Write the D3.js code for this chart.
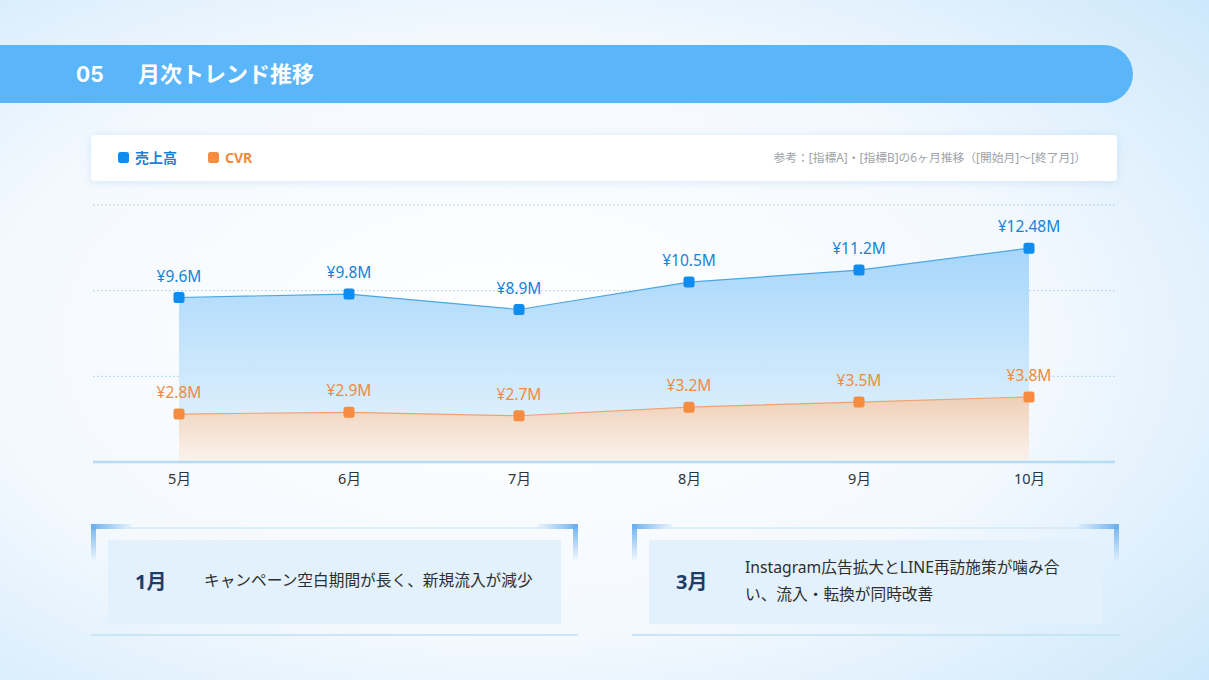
<!DOCTYPE html>
<html><head><meta charset="utf-8">
<script src="https://cdn.jsdelivr.net/npm/d3@7"></script>
<style>
html,body{margin:0;padding:0;width:1209px;height:680px;overflow:hidden;}
svg{display:block;font-family:"Noto Sans","Noto Sans CJK JP",sans-serif;}
</style></head>
<body>
<svg id="c" width="1209" height="680"></svg>
<script>
const months = ["5月","6月","7月","8月","9月","10月"];
const sales = [9.6, 9.8, 8.9, 10.5, 11.2, 12.48];
const cvr = [2.8, 2.9, 2.7, 3.2, 3.5, 3.8];
const salesLabels = ["¥9.6M","¥9.8M","¥8.9M","¥10.5M","¥11.2M","¥12.48M"];
const cvrLabels = ["¥2.8M","¥2.9M","¥2.7M","¥3.2M","¥3.5M","¥3.8M"];
const yTicks = [5, 10, 15];
const legendItems = ["売上高","CVR"];
const titleNum = "05";
const titleText = "月次トレンド推移";
const noteText = "参考：[指標A]・[指標B]の6ヶ月推移（[開始月]〜[終了月]）";
const cardHeads = ["1月","3月"];
const cardBodies = [["キャンペーン空白期間が長く、新規流入が減少"],["Instagram広告拡大とLINE再訪施策が噛み合","い、流入・転換が同時改善"]];

const svg = d3.select("#c");
const defs = svg.append("defs");

// background
const bg = defs.append("radialGradient").attr("id","bg").attr("cx","42%").attr("cy","50%").attr("r","78%");
bg.append("stop").attr("offset","0%").attr("stop-color","#ffffff");
bg.append("stop").attr("offset","55%").attr("stop-color","#f4f9fe");
bg.append("stop").attr("offset","100%").attr("stop-color","#cbe7fb");
svg.append("rect").attr("width",1209).attr("height",680).attr("fill","url(#bg)");

const shadow = defs.append("filter").attr("id","sh").attr("x","-5%").attr("y","-50%").attr("width","110%").attr("height","200%");
shadow.append("feDropShadow").attr("dx",0).attr("dy",1).attr("stdDeviation",4).attr("flood-color","#7fb8e8").attr("flood-opacity",0.3);

// header bar
svg.append("path")
  .attr("d", `M0,45 H1104 A29,29 0 0 1 1104,103 H0 Z`)
  .attr("fill","#5ab6f8");
svg.append("text").attr("x",76).attr("y",82).attr("fill","#fff").attr("font-size",21).attr("font-weight",700)
  .attr("font-family","Inter, 'Noto Sans', sans-serif").text(titleNum);
svg.append("text").attr("x",138).attr("y",82).attr("fill","#fff").attr("font-size",22).attr("font-weight",700)
  .attr("font-family","'Noto Sans CJK JP',sans-serif").text(titleText);

// legend card
svg.append("rect").attr("x",91).attr("y",135).attr("width",1026).attr("height",46).attr("rx",4)
  .attr("fill","#fff").attr("filter","url(#sh)");
const legColors = ["#0f8ced","#f58c3f"];
const legX = [118, 208];
legendItems.forEach((t,i)=>{
  svg.append("rect").attr("x",legX[i]).attr("y",152).attr("width",11).attr("height",11).attr("rx",2.5).attr("fill",legColors[i]);
  svg.append("text").attr("x",legX[i]+17).attr("y",163).attr("font-size",14).attr("font-weight",700)
    .attr("fill", i===0 ? "#1a82d6" : "#f08a3e").text(t);
});
svg.append("text").attr("x",1086).attr("y",162).attr("text-anchor","end").attr("font-size",11.8)
  .attr("fill","#9da3a9").text(noteText);

// scales
const x = d3.scalePoint().domain(months).range([179,1029]);
const y = d3.scaleLinear().domain([0,15]).range([462,205]);

// gridlines
svg.append("g").selectAll("line").data(yTicks).join("line")
  .attr("x1",93).attr("x2",1115).attr("y1",d=>y(d)).attr("y2",d=>y(d))
  .attr("stroke","#9fcbe6").attr("stroke-width",1).attr("stroke-dasharray","1.5,2.5");

// gradients for areas
const gB = defs.append("linearGradient").attr("id","gB")
  .attr("gradientUnits","userSpaceOnUse").attr("y1",248).attr("y2",462).attr("x1",0).attr("x2",0);
gB.append("stop").attr("offset","0%").attr("stop-color","#a6d6fb");
gB.append("stop").attr("offset","100%").attr("stop-color","#eaf5fd");
const gO = defs.append("linearGradient").attr("id","gO").attr("gradientUnits","userSpaceOnUse")
  .attr("x1",0).attr("x2",0).attr("y1",396).attr("y2",462);
gO.append("stop").attr("offset","0%").attr("stop-color","#efcfb6");
gO.append("stop").attr("offset","100%").attr("stop-color","#fbf3ee");

const area = d3.area().x((d,i)=>x(months[i])).y0(y(0)).y1(d=>y(d));
const line = d3.line().x((d,i)=>x(months[i])).y(d=>y(d));

svg.append("path").datum(sales).attr("d",area).attr("fill","url(#gB)");
svg.append("path").datum(cvr).attr("d",area).attr("fill","url(#gO)");
svg.append("path").datum(sales).attr("d",line).attr("fill","none").attr("stroke","#4aa6e4").attr("stroke-width",1.2);
svg.append("path").datum(cvr).attr("d",line).attr("fill","none").attr("stroke","#eda274").attr("stroke-width",1.2);

// axis line
svg.append("line").attr("x1",93).attr("x2",1115).attr("y1",462).attr("y2",462).attr("stroke","#b4dcf6").attr("stroke-width",2.5);

// x axis labels
const xAxis = d3.axisBottom(x).tickSize(0).tickPadding(0);
const gx = svg.append("g").attr("transform","translate(0,462)").call(xAxis);
gx.select(".domain").remove();
gx.selectAll("text").attr("y",22).attr("dy",0).attr("font-size",14.5).attr("fill","#333")
  .attr("font-family","'Noto Sans','Noto Sans CJK JP',sans-serif");

// points + labels
function drawSeries(vals, labels, fill, labColor){
  const g = svg.append("g");
  g.selectAll("rect").data(vals).join("rect")
    .attr("x",(d,i)=>x(months[i])-5.5).attr("y",d=>y(d)-5.5).attr("width",11).attr("height",11).attr("rx",2.5)
    .attr("fill",fill);
  g.selectAll("text").data(vals).join("text")
    .attr("x",(d,i)=>x(months[i])).attr("y",d=>y(d)-16).attr("text-anchor","middle")
    .attr("font-size",15.5).attr("fill",labColor).text((d,i)=>labels[i]);
}
drawSeries(sales, salesLabels, "#0f8ced", "#1683d8");
drawSeries(cvr, cvrLabels, "#f58c3f", "#f08a3e");

// bracket gradients
const bv = defs.append("linearGradient").attr("id","bv").attr("x1",0).attr("x2",0).attr("y1",0).attr("y2",1);
bv.append("stop").attr("offset","0%").attr("stop-color","#6cb0ee");
bv.append("stop").attr("offset","100%").attr("stop-color","#6cb0ee").attr("stop-opacity",0);
const bhl = defs.append("linearGradient").attr("id","bhl").attr("x1",0).attr("x2",1).attr("y1",0).attr("y2",0);
bhl.append("stop").attr("offset","0%").attr("stop-color","#6cb0ee");
bhl.append("stop").attr("offset","100%").attr("stop-color","#6cb0ee").attr("stop-opacity",0.1);
const bhr = defs.append("linearGradient").attr("id","bhr").attr("x1",1).attr("x2",0).attr("y1",0).attr("y2",0);
bhr.append("stop").attr("offset","0%").attr("stop-color","#6cb0ee");
bhr.append("stop").attr("offset","100%").attr("stop-color","#6cb0ee").attr("stop-opacity",0.1);

// cards
const cardX = [91, 632];
const cardW = 487;
cardX.forEach((cx,i)=>{
  const g = svg.append("g");
  g.append("line").attr("x1",cx+38).attr("x2",cx+cardW-38).attr("y1",528).attr("y2",528).attr("stroke","#c5e1f5").attr("stroke-width",1.2);
  g.append("rect").attr("x",cx).attr("y",524).attr("width",40).attr("height",5).attr("fill","url(#bhl)");
  g.append("rect").attr("x",cx).attr("y",524).attr("width",5).attr("height",38).attr("fill","url(#bv)");
  g.append("rect").attr("x",cx+cardW-40).attr("y",524).attr("width",40).attr("height",5).attr("fill","url(#bhr)");
  g.append("rect").attr("x",cx+cardW-5).attr("y",524).attr("width",5).attr("height",38).attr("fill","url(#bv)");
  g.append("rect").attr("x",cx+17).attr("y",540).attr("width",cardW-34).attr("height",84).attr("fill","#e2f1fc");
  g.append("line").attr("x1",cx).attr("x2",cx+cardW).attr("y1",635).attr("y2",635).attr("stroke","#bfe0f5").attr("stroke-width",1.5);
  g.append("text").attr("x",cx+44).attr("y",589).attr("font-size",20).attr("font-weight",700).attr("fill","#1d3c68").text(cardHeads[i]);
  const lines = cardBodies[i];
  const startY = lines.length===1 ? 586 : 573;
  lines.forEach((t,j)=>{
    g.append("text").attr("x",cx+113).attr("y",startY+j*27).attr("font-size",15.7).attr("fill","#2e2e2e").text(t);
  });
});
</script>
</body></html>
